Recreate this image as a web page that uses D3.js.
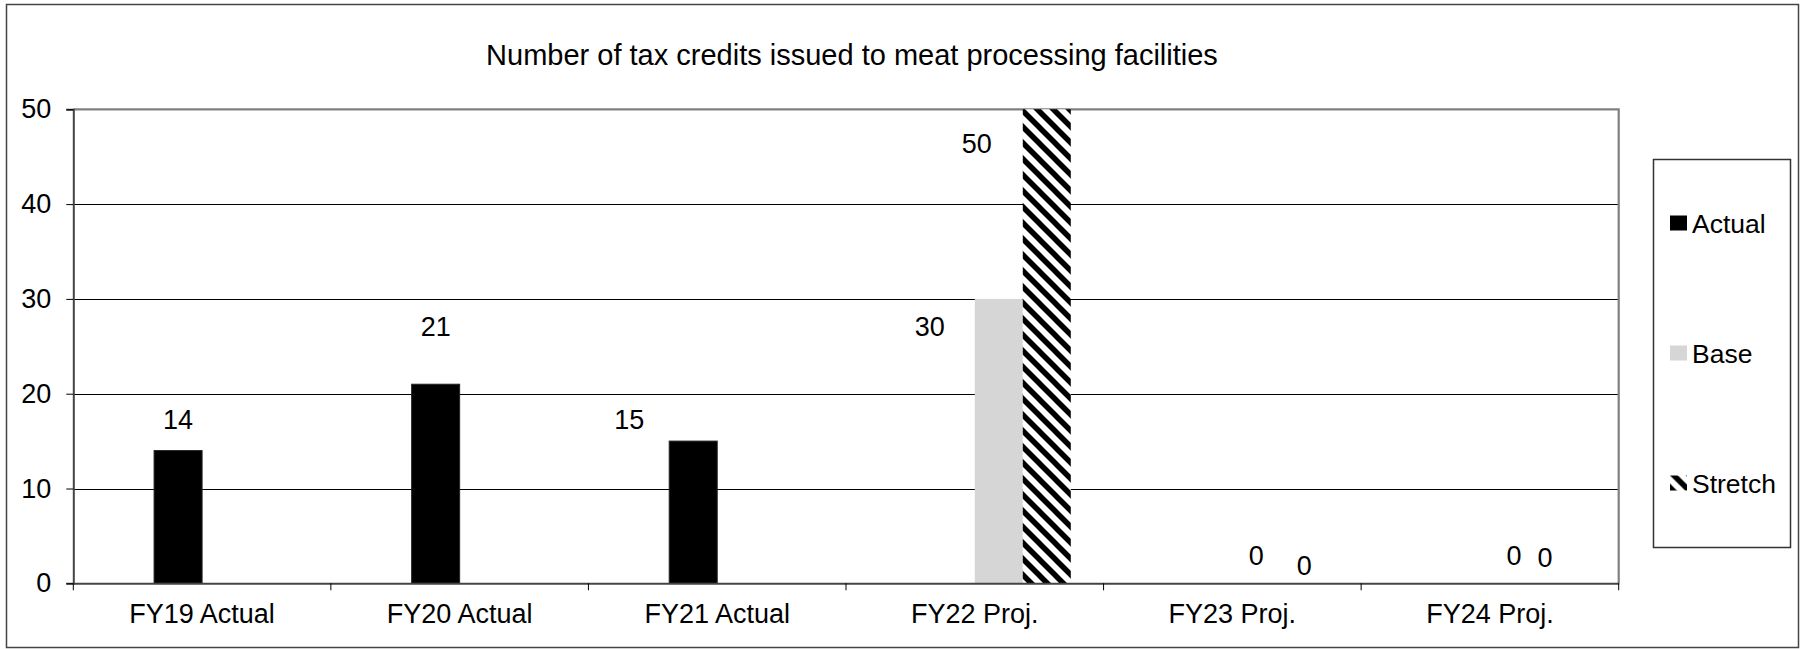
<!DOCTYPE html>
<html>
<head>
<meta charset="utf-8">
<script src="https://cdn.jsdelivr.net/npm/d3@7"></script>
<style>
  body { margin: 0; background: #fff; }
  text { font-family: "Liberation Sans", Arial, sans-serif; fill: #000; }
</style>
</head>
<body>
<svg id="chart" width="1805" height="649"></svg>
<script>
// ---- data ----
const chartTitle = "Number of tax credits issued to meat processing facilities";
const categories = ["FY19 Actual", "FY20 Actual", "FY21 Actual", "FY22 Proj.", "FY23 Proj.", "FY24 Proj."];
const seriesNames = ["Actual", "Base", "Stretch"];
const actualValues = [14, 21, 15, null, null, null];
const baseValues = [null, null, null, 30, 0, 0];
const stretchValues = [null, null, null, 50, 0, 0];
const yTicks = [0, 10, 20, 30, 40, 50];

// hand-placed data label nudges (px, relative to the top centre of each bar, to text baseline)
const labelNudges = {
  Actual:  [[0, -22], [0, -48], [-64, -12], null, null, null],
  Base:    [null, null, null, [-69, 37], [0, -18], [0, -18]],
  Stretch: [null, null, null, [-70, 44], [0, -8], [-17, -16]]
};

const seriesValues = { Actual: actualValues, Base: baseValues, Stretch: stretchValues };

// ---- layout ----
const plot = { left: 73.3, right: 1618.7, top: 109.3, bottom: 583.3 };
const fontSize = 27;
const legendFont = 26.5;

const svg = d3.select("#chart");

// stripe patterns for the stretch series (bars and legend key)
const defs = svg.append("defs");
function stripePattern(id, shift) {
  const p = defs.append("pattern")
    .attr("id", id)
    .attr("patternUnits", "userSpaceOnUse")
    .attr("width", 16).attr("height", 16)
    .attr("patternTransform", `translate(0,${shift})`);
  p.append("rect").attr("width", 16).attr("height", 16).attr("fill", "#fff");
  p.append("path")
    .attr("d", "M-4,-4L20,20M-4,12L4,20M12,-4L20,4")
    .attr("stroke", "#000").attr("stroke-width", 5.5);
}
stripePattern("stripes", 0);
stripePattern("stripesKey", 4.5);

const fills = { Actual: "#000", Base: "#d6d6d6", Stretch: "url(#stripes)" };
const keyFills = { Actual: "#000", Base: "#d6d6d6", Stretch: "url(#stripesKey)" };

// outer frame
svg.append("rect")
  .attr("x", 6.5).attr("y", 4.5).attr("width", 1792).attr("height", 643)
  .attr("fill", "#fff").attr("stroke", "#444").attr("stroke-width", 1.5);

// scales
const x0 = d3.scaleBand().domain(categories).range([plot.left, plot.right]).padding(0);
// one leading empty slot in each cluster, then the three series
const slotKeys = ["spacer", ...seriesNames];
const x1 = d3.scaleBand().domain(slotKeys).range([0, x0.bandwidth()])
  .paddingInner(0).paddingOuter(0.683);
const y = d3.scaleLinear().domain([0, 50]).range([plot.bottom, plot.top]);

// title
svg.append("text")
  .attr("x", 852).attr("y", 65)
  .attr("text-anchor", "middle")
  .style("font-size", "29px")
  .text(chartTitle);

// gridlines
svg.append("g")
  .selectAll("line")
  .data(yTicks.filter(t => t > 0 && t < 50))
  .join("line")
  .attr("x1", plot.left).attr("x2", plot.right)
  .attr("y1", d => Math.round(y(d)) + 0.5).attr("y2", d => Math.round(y(d)) + 0.5)
  .attr("stroke", "#000").attr("stroke-width", 1);

// plot area border (top and right)
svg.append("path")
  .attr("d", `M${plot.left},${y(50)}H${plot.right}V${plot.bottom}`)
  .attr("fill", "none").attr("stroke", "#808080").attr("stroke-width", 2.2);

// bars
const barData = [];
seriesNames.forEach(s => {
  seriesValues[s].forEach((v, i) => {
    if (v !== null) barData.push({ series: s, cat: categories[i], value: v, i });
  });
});

svg.append("g")
  .selectAll("rect")
  .data(barData.filter(d => d.value > 0))
  .join("rect")
  .attr("x", d => x0(d.cat) + x1(d.series))
  .attr("width", x1.bandwidth())
  .attr("y", d => y(d.value))
  .attr("height", d => y(0) - y(d.value))
  .attr("fill", d => fills[d.series])
  .attr("stroke", d => d.series === "Actual" ? "#222" : "none")
  .attr("stroke-width", 1);

// data labels
svg.append("g")
  .selectAll("text")
  .data(barData)
  .join("text")
  .attr("x", d => x0(d.cat) + x1(d.series) + x1.bandwidth() / 2 + labelNudges[d.series][d.i][0])
  .attr("y", d => y(d.value) + labelNudges[d.series][d.i][1])
  .attr("text-anchor", "middle")
  .style("font-size", fontSize + "px")
  .text(d => d.value);

// y axis
const yAxis = svg.append("g")
  .attr("transform", `translate(${plot.left},0)`)
  .call(d3.axisLeft(y).tickValues(yTicks).tickSize(7).tickPadding(15).tickFormat(d3.format("d")));
yAxis.select(".domain").attr("stroke", "#444").attr("stroke-width", 2);
yAxis.selectAll(".tick line").attr("stroke", "#000");
yAxis.selectAll(".tick text").style("font-size", fontSize + "px")
  .style("font-family", "\"Liberation Sans\", Arial, sans-serif");

// x axis: labels centred in each band, ticks at band edges
const xAxis = svg.append("g")
  .attr("transform", `translate(0,${plot.bottom})`)
  .call(d3.axisBottom(x0).tickSize(0).tickPadding(21));
xAxis.select(".domain").attr("stroke", "#444").attr("stroke-width", 2);
xAxis.selectAll(".tick text").style("font-size", fontSize + "px")
  .style("font-family", "\"Liberation Sans\", Arial, sans-serif");

const edges = categories.map(c => x0(c)).concat([plot.right]);
xAxis.append("g")
  .selectAll("line")
  .data(edges)
  .join("line")
  .attr("x1", d => d).attr("x2", d => d)
  .attr("y1", 0).attr("y2", 7)
  .attr("stroke", "#000");

// legend
const legend = svg.append("g");
legend.append("rect")
  .attr("x", 1653.5).attr("y", 159.5).attr("width", 137).attr("height", 388)
  .attr("fill", "#fff").attr("stroke", "#333").attr("stroke-width", 1.5);
const legendY = [223, 353, 483];
const items = legend.selectAll("g.item")
  .data(seriesNames)
  .join("g")
  .attr("class", "item")
  .attr("transform", (d, i) => `translate(1670,${legendY[i]})`);
items.append("rect")
  .attr("x", 0).attr("y", -7.5).attr("width", 17).attr("height", 15)
  .attr("fill", d => keyFills[d]);
items.append("text")
  .attr("x", 22).attr("y", 9.5)
  .style("font-size", legendFont + "px")
  .text(d => d);
</script>
</body>
</html>
